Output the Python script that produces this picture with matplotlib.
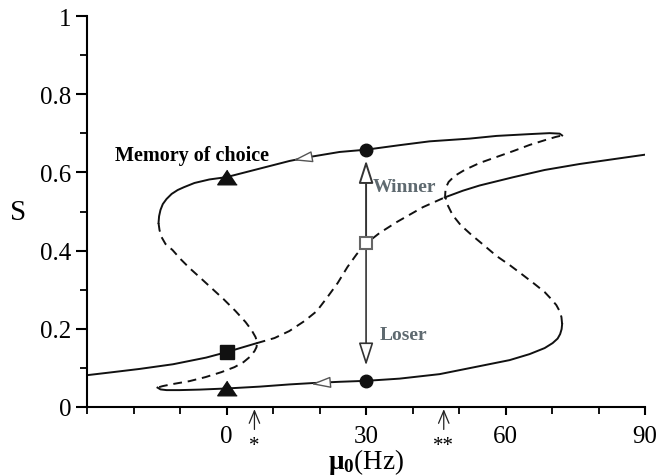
import matplotlib
matplotlib.use("Agg")
import matplotlib.pyplot as plt
import numpy as np

plt.rcParams['font.family'] = ['Liberation Serif', 'DejaVu Serif']
plt.rcParams['mathtext.fontset'] = 'custom'
plt.rcParams['mathtext.rm'] = 'Liberation Serif'
plt.rcParams['mathtext.bf'] = 'Liberation Serif:bold'

# closed branch (memory of choice): lower stable, right unstable, upper stable, left unstable
p_low_x = [-14.84, -14.19, -12.9, -10.11, -5.81, 0, 7.1, 13.55, 18.28, 24.3, 30.04, 37.2, 45.81,
           54.41, 60.86, 65.16, 68.39, 70.11, 71.18, 71.72, 72.04, 72.15]
p_low_s = [0.0492, 0.0446, 0.0428, 0.0428, 0.0441, 0.047, 0.0517, 0.0574, 0.0607, 0.0641, 0.0666,
           0.0722, 0.0837, 0.1042, 0.1196, 0.135, 0.1504, 0.1632, 0.1747, 0.1862, 0.199, 0.2118]
p_right_x = [72.15, 72.0, 71.6, 70.9, 69.8, 68.39, 66.24, 63.44, 60.86, 58.06, 55.27, 52.69,
             50.32, 48.6, 47.53, 46.99, 47.1, 47.74, 49.03, 51.18, 54.41, 58.06, 61.72, 65.16,
             68.6, 70.75, 72.15]
p_right_s = [0.2118, 0.2298, 0.2451, 0.2605, 0.2759, 0.2938, 0.3143, 0.3399, 0.363, 0.386, 0.4142,
             0.4398, 0.4654, 0.491, 0.5166, 0.5397, 0.5597, 0.5756, 0.591, 0.6063, 0.6242, 0.6396,
             0.655, 0.6704, 0.6832, 0.6908, 0.6947]
p_up_x = [72.15, 71.61, 69.46, 65.16, 58.06, 52.26, 43.66, 37.2, 30.04, 24.3, 17.85, 13.55, 7.1, 0,
          -3.7, -6.9, -9.2, -10.5, -11.8, -12.9, -13.7, -14.2, -14.5, -14.62]
p_up_s = [0.6947, 0.6993, 0.7006, 0.6981, 0.6935, 0.6866, 0.6796, 0.6698, 0.6583, 0.6524, 0.6396,
          0.6294, 0.6097, 0.588, 0.582, 0.573, 0.562, 0.555, 0.545, 0.532, 0.519, 0.504, 0.488, 0.4705]
p_left_x = [-14.62, -14.41, -13.98, -13.12, -11.61, -9.89, -7.96, -5.81, -3.23, -0.65, 1.94, 4.09,
            5.38, 6.24, 6.56, 6.45, 6.02, 4.95, 3.66, 1.72, -1.08, -4.52, -7.96, -11.61, -13.76, -14.84]
p_left_s = [0.4705, 0.4526, 0.4347, 0.4168, 0.4014, 0.3783, 0.3553, 0.3322, 0.304, 0.2758, 0.2451,
            0.217, 0.1965, 0.1785, 0.1657, 0.1529, 0.1427, 0.1273, 0.1145, 0.1017, 0.0889, 0.0761,
            0.0658, 0.0582, 0.053, 0.0492]

# open branch: stable low, unstable middle, stable high
q_low_x = [-30, -25, -18.7, -11.5, -4.4, 0, 2.8, 6.5]
q_low_s = [0.081, 0.088, 0.097, 0.109, 0.126, 0.140, 0.150, 0.163]
q_mid_x = [6.5, 10.3, 13.5, 16.8, 19.4, 21.7, 23.9, 26.0, 28.0, 30.1, 32.9, 36.6, 42.2, 46.9]
q_mid_s = [0.163, 0.176, 0.194, 0.220, 0.245, 0.281, 0.317, 0.358, 0.391, 0.419, 0.445, 0.473,
           0.511, 0.536]
q_high_x = [46.9, 50.82, 54.41, 61.57, 68.39, 75.91, 83.44, 90]
q_high_s = [0.536, 0.5533, 0.5666, 0.5876, 0.6063, 0.6216, 0.6344, 0.6455]

# marked states
tri_x, tri_s = [0, 0], [0.588, 0.047]
sq_x, sq_s = [0], [0.140]
dot_x, dot_s = [30, 30], [0.658, 0.067]
open_sq_x, open_sq_s = [30], [0.419]

# direction arrows on branches (tip, tail)
flow_tips = [(14.3, 0.631), (18.2, 0.058)]
flow_tails = [(18.3, 0.640), (22.2, 0.0625)]

# bifurcation points marked below the axis
star_x = [6.0, 46.7]
star_lbl = ['*', '**']

fig = plt.figure(figsize=(6.59, 4.77), dpi=100)
ax = fig.add_axes([0.132, 0.145, 0.847, 0.819])

lc = '#111111'
lw = 1.4
dash = (0, (4.5, 3))
ax.plot(p_low_x, p_low_s, color=lc, lw=lw)
ax.plot(p_right_x, p_right_s, color=lc, lw=lw, ls=dash)
ax.plot(p_up_x, p_up_s, color=lc, lw=lw)
ax.plot(p_left_x, p_left_s, color=lc, lw=lw, ls=dash)
ax.plot(q_low_x, q_low_s, color=lc, lw=lw)
ax.plot(q_mid_x, q_mid_s, color=lc, lw=lw, ls=dash)
ax.plot(q_high_x, q_high_s, color=lc, lw=lw)

# winner / loser transitions from the symmetric state
ax.annotate('', xy=(30, dot_s[0] - 0.027), xytext=(30, open_sq_s[0] + 0.017),
            arrowprops=dict(arrowstyle='-|>,head_length=1.4,head_width=0.45', fc='white',
                            ec='#333333', lw=1.4, shrinkA=0, shrinkB=0))
ax.annotate('', xy=(30, dot_s[1] + 0.039), xytext=(30, open_sq_s[0] - 0.017),
            arrowprops=dict(arrowstyle='-|>,head_length=1.4,head_width=0.45', fc='white',
                            ec='#333333', lw=1.2, shrinkA=0, shrinkB=0))

for tip, tail in zip(flow_tips, flow_tails):
    ax.annotate('', xy=tip, xytext=tail,
                arrowprops=dict(arrowstyle='-|>,head_length=1.2,head_width=0.35', fc='white',
                                ec='#555555', lw=1.0, shrinkA=0, shrinkB=0))

tri = [(0, 0.75), (-1, -0.75), (1, -0.75)]
ax.plot(tri_x, tri_s, ls='none', marker=tri, ms=14, color='#111111', zorder=5)
ax.plot(sq_x, sq_s, ls='none', marker='s', ms=10.5, color='#111111', zorder=5)
ax.plot(dot_x, dot_s, ls='none', marker='o', ms=9, color='#111111', zorder=5)
ax.plot(open_sq_x, open_sq_s, ls='none', marker='s', ms=8.5, mfc='white', mec='#666666',
        mew=1.5, zorder=5)

ax.text(-24.0, 0.645, 'Memory of choice', fontsize=14.5, fontweight='bold', va='center')
ax.text(31.5, 0.565, 'Winner', fontsize=14, fontweight='bold', color='#5f6a70', va='center')
ax.text(33.0, 0.186, 'Loser', fontsize=14, fontweight='bold', color='#5f6a70', va='center')

for xs, lbl in zip(star_x, star_lbl):
    ax.annotate(lbl, xy=(xs, -0.006), xytext=(xs, -0.10), ha='center', va='center',
                fontsize=15, annotation_clip=False,
                arrowprops=dict(arrowstyle='->,head_length=0.6,head_width=0.25', lw=0.9,
                                color='#222222', shrinkA=3, shrinkB=0))

ax.set_xlim(-30, 90)
ax.set_ylim(0, 1)
for side in ['top', 'right']:
    ax.spines[side].set_visible(False)
for side in ['left', 'bottom']:
    ax.spines[side].set_linewidth(1.5)
ax.set_xticks([0, 30, 60, 90])
ax.set_xticks(np.arange(-30, 91, 10), minor=True)
ax.set_yticks([0, 0.2, 0.4, 0.6, 0.8, 1])
ax.set_yticklabels(['0', '0.2', '0.4', '0.6', '0.8', '1'])
ax.set_yticks(np.arange(0, 1.01, 0.1), minor=True)
ax.tick_params(axis='x', which='major', length=6, width=1.5, labelsize=18, pad=7)
ax.tick_params(axis='x', which='minor', length=5, width=1.3)
ax.tick_params(axis='y', which='major', length=8, width=1.5, labelsize=18, pad=3)
ax.tick_params(axis='y', which='minor', length=5, width=1.3)

ax.set_xlabel(r'$\mathbf{\mu_0}$(Hz)', fontsize=19.5, labelpad=-1)
ax.set_ylabel('S', fontsize=21, rotation=0, labelpad=16, va='center')

fig.savefig('out.png', dpi=100)
